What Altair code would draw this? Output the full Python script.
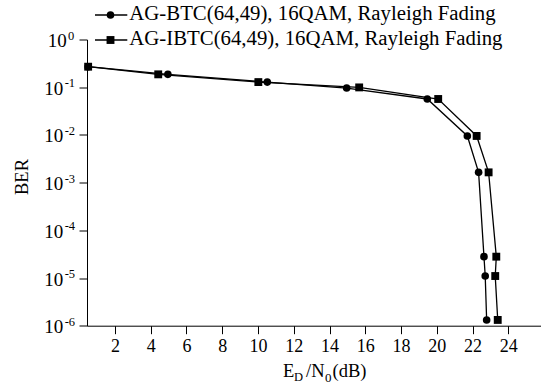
import altair as alt
import pandas as pd

# BER curves, 16QAM over Rayleigh fading
btc_name = "AG-BTC(64,49), 16QAM, Rayleigh Fading"
btc_snr = [0.5, 4.96, 10.52, 14.96, 19.47, 21.71, 22.34, 22.64, 22.71, 22.79]
btc_ber = [0.269, 0.186, 0.128, 0.096, 0.0566, 0.0095, 0.00164, 2.8e-5, 1.1e-5, 1.32e-6]

ibtc_name = "AG-IBTC(64,49), 16QAM, Rayleigh Fading"
ibtc_snr = [0.5, 4.42, 10.02, 15.66, 20.08, 22.23, 22.90, 23.33, 23.27, 23.41]
ibtc_ber = [0.269, 0.186, 0.128, 0.099, 0.0566, 0.0095, 0.00164, 2.8e-5, 1.1e-5, 1.32e-6]

x_ticks = [2, 4, 6, 8, 10, 12, 14, 16, 18, 20, 22, 24]
decades = [0, -1, -2, -3, -4, -5, -6]

FONT = "Liberation Serif, Times New Roman, serif"
W, H = 454, 286.2

btc = pd.DataFrame({"snr": btc_snr, "ber": btc_ber, "idx": range(len(btc_snr))})
ibtc = pd.DataFrame({"snr": ibtc_snr, "ber": ibtc_ber, "idx": range(len(ibtc_snr))})
dec = pd.DataFrame({"k": decades, "val": [10.0 ** k for k in decades],
                    "exp": [str(k) for k in decades]})

xs = alt.Scale(domain=[0.436, 25.83], nice=False, zero=False)
ys = alt.Scale(type="log", domain=[1e-6, 1], nice=False)

x_enc = alt.X("snr:Q", scale=xs,
              axis=alt.Axis(values=x_ticks, title=None, grid=False, labelFont=FONT,
                            labelFontSize=18, labelColor="black", labelPadding=4,
                            tickSize=8, tickColor="black", domainColor="black",
                            labelFlush=False, labelOverlap=False))
y_enc = alt.Y("ber:Q", scale=ys,
              axis=alt.Axis(values=[10.0 ** k for k in decades], title=None, grid=False,
                            labels=False, tickSize=8, tickColor="black",
                            domainColor="black"))


def curve(df, shape, size):
    base = alt.Chart(df).encode(x=x_enc, y=y_enc, order=alt.Order("idx:Q"))
    line = base.mark_line(color="black", strokeWidth=1.3)
    pts = base.mark_point(shape=shape, filled=True, color="black", size=size, opacity=1)
    return line + pts


# y tick labels: base "10" with a raised exponent
yl = alt.Chart(dec).encode(y=alt.Y("val:Q", scale=ys))
y_base0 = yl.transform_filter("datum.k == 0").mark_text(
    text="10", font=FONT, fontSize=19, align="right", baseline="middle", dy=1.5
).encode(x=alt.value(-20.3))
y_exp0 = yl.transform_filter("datum.k == 0").mark_text(
    font=FONT, fontSize=12.5, align="left", baseline="middle", dy=-4
).encode(x=alt.value(-19), text="exp:N")
y_base = yl.transform_filter("datum.k < 0").mark_text(
    text="10", font=FONT, fontSize=19, align="right", baseline="middle", dy=1.5
).encode(x=alt.value(-23.7))
y_exp = yl.transform_filter("datum.k < 0").mark_text(
    font=FONT, fontSize=12.5, align="left", baseline="middle", dy=-4
).encode(x=alt.value(-22.3), text="exp:N")

# axis titles
def txt(s, x, y, size=18.5, **kw):
    return alt.Chart(pd.DataFrame({"t": [s]})).mark_text(
        font=FONT, fontSize=size, align="left", baseline="alphabetic", **kw
    ).encode(text="t:N", x=alt.value(x), y=alt.value(y))

yt = alt.Chart(pd.DataFrame({"t": ["BER"]})).mark_text(
    font=FONT, fontSize=18.5, angle=270, align="center", baseline="middle"
).encode(text="t:N", x=alt.value(21.5 - 87), y=alt.value(177 - 39.5))

bx = 283 - 87
by = 376.7 - 39.5
xtitle = (txt("E", bx, by) + txt("D", bx + 11, by + 4.5, size=12.5)
          + txt("/N", bx + 23, by) + txt("0", bx + 42, by + 5, size=13)
          + txt("(dB)", bx + 49.5, by))

# legend rows drawn above the plot
def legend_row(name, shape, size, yrow):
    ln = alt.Chart(pd.DataFrame({"a": [0]})).mark_rule(color="black", strokeWidth=1.3).encode(
        x=alt.value(8), x2=alt.value(40.3), y=alt.value(yrow))
    mk = alt.Chart(pd.DataFrame({"a": [0]})).mark_point(
        shape=shape, filled=True, color="black", size=size, opacity=1
    ).encode(x=alt.value(23.5), y=alt.value(yrow))
    tx = alt.Chart(pd.DataFrame({"t": [name]})).mark_text(
        font=FONT, fontSize=20.8, align="left", baseline="middle", dy=-1
    ).encode(text="t:N", x=alt.value(42.3), y=alt.value(yrow))
    return ln + mk + tx

chart = alt.layer(
    curve(btc, "circle", 58), curve(ibtc, "square", 62),
    y_base0, y_exp0, y_base, y_exp, yt, xtitle,
    legend_row(btc_name, "circle", 58, 15 - 39.5),
    legend_row(ibtc_name, "square", 62, 40 - 39.5),
).properties(
    width=W, height=H,
    autosize=alt.AutoSizeParams(type="none"),
    padding={"left": 87, "top": 39.5, "right": 0, "bottom": 387 - 39.5 - H},
    background="white",
).configure_view(stroke=None)

chart.save("out.html", embed_options={"renderer": "svg", "actions": False})
